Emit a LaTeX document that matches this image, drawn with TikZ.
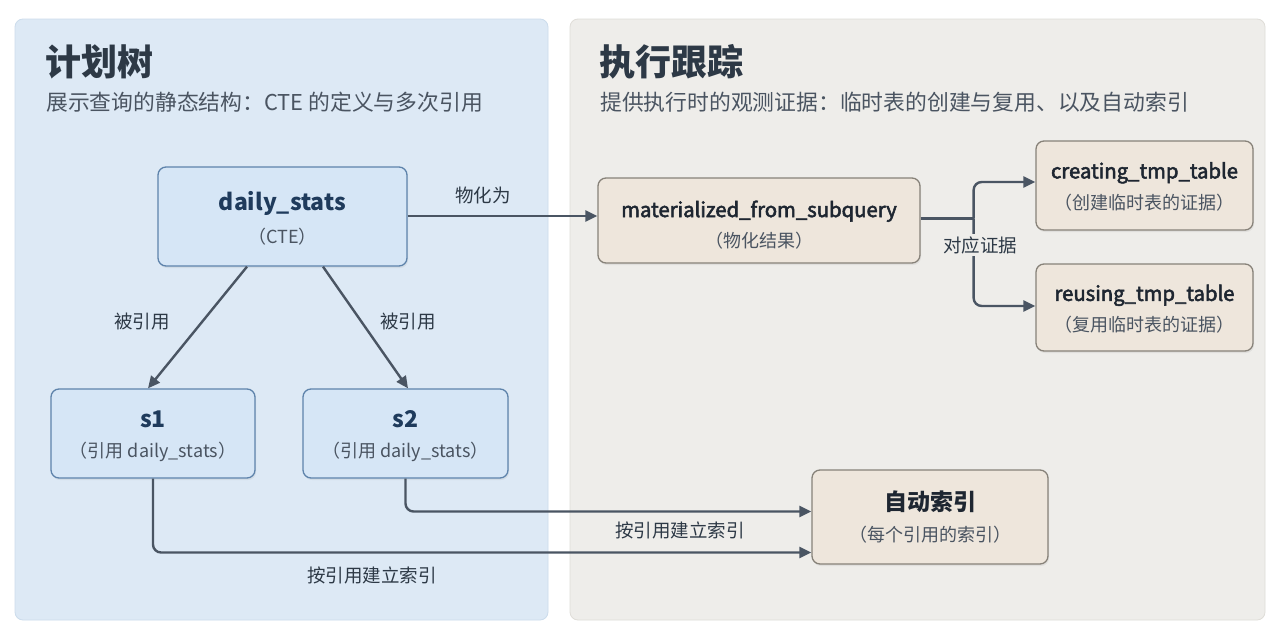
\documentclass[tikz,border=0pt]{standalone}
\usepackage{fontspec}
\setmainfont{Noto Sans CJK SC}
\newfontfamily\semibfont{Noto Sans CJK SC}[FakeBold=2.6]
\usetikzlibrary{arrows.meta,shadows}
\definecolor{leftbg}{HTML}{DDE9F5}
\definecolor{leftedge}{HTML}{CCDCEC}
\definecolor{rightbg}{HTML}{EEEDEA}
\definecolor{rightedge}{HTML}{DFDDD8}
\definecolor{lfill}{HTML}{D6E6F6}
\definecolor{ldraw}{HTML}{5E83AB}
\definecolor{rfill}{HTML}{EEE6DC}
\definecolor{rdraw}{HTML}{878279}
\definecolor{ink}{HTML}{2D3946}
\definecolor{subink}{HTML}{4A5461}
\definecolor{ltitle}{HTML}{1F3B5C}
\definecolor{rtitle}{HTML}{1E2631}
\definecolor{arrowc}{HTML}{4A5563}
% bold title + subtitle (#5 = strut height of the first line)
\newcommand{\twol}[5]{{\rule{0pt}{#5}\fontsize{23}{27}\selectfont\bfseries\color{#1}#2}\\[#4]{\fontsize{18}{22}\selectfont\color{subink}#3}}
% semibold (narrower) title + subtitle
\newcommand{\twos}[5]{{\rule{0pt}{#5}\fontsize{20.3}{25}\selectfont\semibfont\color{#1}#2}\\[#4]{\fontsize{18}{22}\selectfont\color{subink}#3}}
\begin{document}
\begin{tikzpicture}[x=1pt,y=-1pt,
  boxbase/.style={rounded corners=8pt, line width=1.3pt, align=center, inner sep=0pt,
    drop shadow={opacity=0.12, shadow xshift=1pt, shadow yshift=-2pt}},
  lbox/.style={boxbase, draw=ldraw, fill=lfill},
  rbox/.style={boxbase, draw=rdraw, fill=rfill},
  arr/.style={draw=arrowc, line width=2.4pt, rounded corners=8pt, -{Triangle[length=12pt,width=11pt]}},
  lbl/.style={font=\fontsize{18.5}{22}\selectfont, text=ink, inner sep=2pt},
  ptitle/.style={anchor=west, font=\fontsize{36}{42}\selectfont\bfseries, text=ink, inner sep=0pt},
  psub/.style={anchor=west, font=\fontsize{21.8}{26}\selectfont, text=subink, inner sep=0pt}
]
\useasboundingbox[fill=white] (0,0) rectangle (1280,640);
% panels
\filldraw[fill=leftbg, draw=leftedge, line width=0.8pt, rounded corners=8pt] (15,19) rectangle (548,620);
\filldraw[fill=rightbg, draw=rightedge, line width=0.8pt, rounded corners=8pt] (570,19) rectangle (1265,620);
% panel titles
\node[ptitle] (lt) at (45,62) {计划树};
\node[psub] (ls) at (46,102) {展示查询的静态结构：CTE 的定义与多次引用};
\node[ptitle] (rt) at (599,62) {执行跟踪};
\node[psub] (rs) at (600,102) {提供执行时的观测证据：临时表的创建与复用、以及自动索引};
% nodes
\node[lbox, minimum width=249pt, minimum height=99pt] (ds) at (282.5,216.5) {\twol{ltitle}{daily\_stats}{（CTE）}{11pt}{23pt}};
\node[lbox, minimum width=204pt, minimum height=89pt] (s1) at (153,433.5) {\twol{ltitle}{s1}{（引用 daily\_stats）}{14pt}{22pt}};
\node[lbox, minimum width=205pt, minimum height=89pt] (s2) at (405.5,433.5) {\twol{ltitle}{s2}{（引用 daily\_stats）}{14pt}{22pt}};
\node[rbox, minimum width=322pt, minimum height=85pt] (mat) at (759,220.5) {\twos{rtitle}{materialized\_from\_subquery}{（物化结果）}{9pt}{25pt}};
\node[rbox, minimum width=217pt, minimum height=89pt] (cre) at (1144.5,185.5) {\twos{rtitle}{creating\_tmp\_table}{（创建临时表的证据）}{10pt}{19pt}};
\node[rbox, minimum width=217pt, minimum height=87pt] (reu) at (1144.5,307.5) {\twos{rtitle}{reusing\_tmp\_table}{（复用临时表的证据）}{9pt}{19pt}};
\node[rbox, minimum width=236pt, minimum height=94pt] (auto) at (930,517) {\twol{rtitle}{自动索引}{（每个引用的索引）}{12pt}{0pt}};
% connectors
\draw[arr] ([yshift=0.5pt]ds.east) -- ([yshift=0.5pt]ds.east -| mat.west);
\node[lbl] (l1) at (483,195) {物化为};
\draw[arr] ([xshift=-35.5pt]ds.south) -- ([xshift=-5pt]s1.north);
\draw[arr] ([xshift=40.5pt]ds.south) -- ([xshift=2.5pt]s2.north);
\node[lbl] (l2) at (142,322) {被引用};
\node[lbl] (l3) at (408,322) {被引用};
\coordinate (fork) at ([xshift=53pt,yshift=2pt]mat.east);
\draw[draw=arrowc, line width=2.4pt] ([yshift=2pt]mat.east) -- (fork);
\draw[arr] (fork) |- ([yshift=3.5pt]cre.west);
\draw[arr] (fork) |- ([yshift=1.5pt]reu.west);
\node[lbl, fill=rightbg] (l4) at (980,245) {对应证据};
\draw[arr] (s2.south) |- ([yshift=5.5pt]auto.west);
\draw[arr] (s1.south) |- ([yshift=-35.5pt]auto.west);
\node[lbl] (l5) at (680,530) {按引用建立索引};
\node[lbl] (l6) at (372,575) {按引用建立索引};
\end{tikzpicture}
\end{document}
